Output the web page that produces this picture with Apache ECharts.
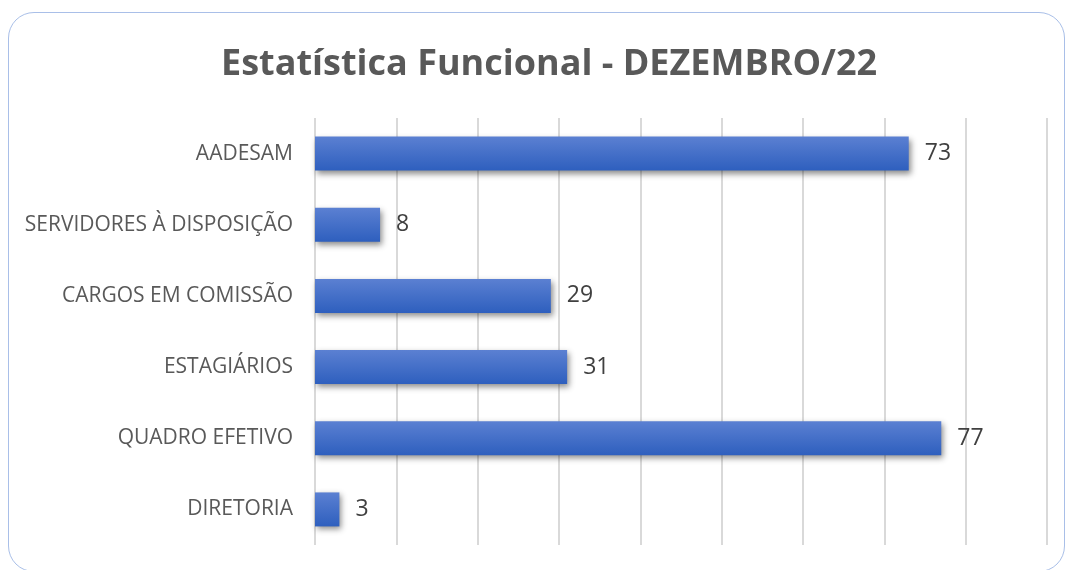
<!DOCTYPE html>
<html lang="pt">
<head>
    <meta charset="UTF-8">
    <title>Estatística Funcional</title>
    <script src="https://cdn.jsdelivr.net/npm/echarts@6/dist/echarts.min.js"></script>
    <style>
        html, body { margin: 0; padding: 0; background: #fff; }
        #frame {
            position: absolute; left: 8px; top: 12px; width: 1057px; height: 560px;
            border: 1px solid #a9bfe8; border-radius: 26px; box-sizing: border-box;
        }
        #main { position: absolute; left: 0; top: 0; width: 1068px; height: 570px; }
    </style>
</head>
<body>
<div id="frame"></div>
<div id="main"></div>
<script type="text/javascript">
    // categorias de baixo para cima (como no Excel)
    var categorias = ['DIRETORIA', 'QUADRO EFETIVO', 'ESTAGIÁRIOS', 'CARGOS EM COMISSÃO', 'SERVIDORES À DISPOSIÇÃO', 'AADESAM'];
    var valores = [3, 77, 31, 29, 8, 73];

    var myChart = echarts.init(document.getElementById('main'));
    var option = {
        title: {
            text: 'Estatística Funcional - DEZEMBRO/22',
            left: 216,
            top: 42,
            textStyle: {
                fontFamily: 'Open Sans',
                fontSize: 36,
                fontWeight: 'bold',
                color: '#595959'
            }
        },
        grid: {
            left: 315,
            right: 21,
            top: 118,
            bottom: 25,
            containLabel: false
        },
        xAxis: {
            type: 'value',
            min: 0,
            max: 90,
            interval: 10,
            axisLabel: { show: false },
            axisLine: { show: false },
            axisTick: { show: false },
            splitLine: { lineStyle: { color: '#d9d9d9', width: 2 } }
        },
        yAxis: {
            type: 'category',
            data: categorias,
            axisLine: { show: false },
            axisTick: { show: false },
            axisLabel: {
                margin: 22,
                fontFamily: 'Open Sans',
                fontSize: 21,
                color: '#595959'
            }
        },
        series: [
            {
                type: 'bar',
                data: valores,
                barWidth: 34,
                itemStyle: {
                    color: new echarts.graphic.LinearGradient(0, 0, 0, 1, [
                        { offset: 0, color: '#5b80d2' },
                        { offset: 1, color: '#2e5fbe' }
                    ]),
                    shadowColor: 'rgba(0, 0, 0, 0.45)',
                    shadowBlur: 6,
                    shadowOffsetX: 2,
                    shadowOffsetY: 3
                },
                label: {
                    show: true,
                    position: 'right',
                    distance: 16,
                    fontFamily: 'Open Sans',
                    fontSize: 23,
                    color: '#404040'
                }
            }
        ]
    };
    myChart.setOption(option);
</script>
</body>
</html>
